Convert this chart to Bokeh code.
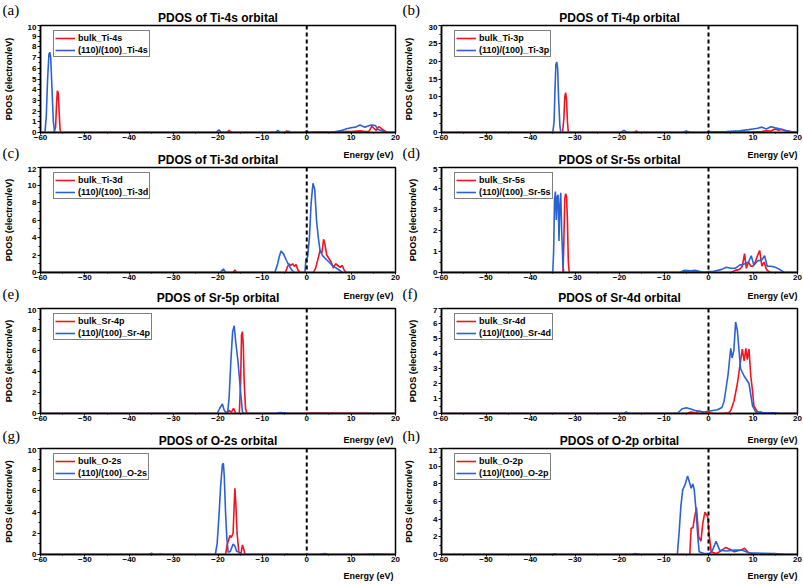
from bokeh.plotting import figure
from bokeh.layouts import column, row
from bokeh.models import Span, Legend, LegendItem, FixedTicker, Range1d
from bokeh.core.properties import value
from bokeh.embed import file_html
from bokeh.resources import INLINE

# ---------------- data ----------------
X_MIN, X_MAX = -60, 20
X_TICKS = [-60, -50, -40, -30, -20, -10, 0, 10, 20]
X_MINOR = [-55, -45, -35, -25, -15, -5, 5, 15]
FERMI = 0

LETTERS = ["(a)", "(b)", "(c)", "(d)", "(e)", "(f)", "(g)", "(h)"]
TITLES = ["PDOS of Ti-4s orbital", "PDOS of Ti-4p orbital", "PDOS of Ti-3d orbital",
          "PDOS of Sr-5s orbital", "PDOS of Sr-5p orbital", "PDOS of Sr-4d orbital",
          "PDOS of O-2s orbital", "PDOS of O-2p orbital"]
BULK_LABELS = ["bulk_Ti-4s", "bulk_Ti-3p", "bulk_Ti-3d", "bulk_Sr-5s",
               "bulk_Sr-4p", "bulk_Sr-4d", "bulk_O-2s", "bulk_O-2p"]
SURF_LABELS = ["(110)/(100)_Ti-4s", "(110)/(100)_Ti-3p", "(110)/(100)_Ti-3d", "(110)/(100)_Sr-5s",
               "(110)/(100)_Sr-4p", "(110)/(100)_Sr-4d", "(110)/(100)_O-2s", "(110)/(100)_O-2p"]
Y_MAX = [10, 30, 12, 5, 10, 7, 10, 12]
Y_STEP = [1, 5, 2, 1, 2, 1, 2, 2]
Y_LABEL = "PDOS (electron/eV)"
X_LABEL = "Energy (eV)"

# (a) Ti-4s
A_BULK_E = [-60, -57, -56.6, -56.4, -56.2, -56.0, -55.8, -55.6, -55.4, -18, -17.5, -17, -5, -4.5, -4,
            -0.3, 0, 0.3, 2, 5, 8, 10, 12, 13, 14, 14.7, 15.2, 15.7, 16.2, 16.6, 17, 17.6, 18.2, 20]
A_BULK = [0, 0, 0.5, 2.5, 3.9, 3.7, 2.0, 0.3, 0, 0, 0.2, 0, 0, 0.15, 0,
          0, 0.1, 0, 0.05, 0.05, 0.1, 0.1, 0.15, 0.1, 0.1, 0.6, 0.35, 0.2, 0.55, 0.45, 0.3, 0.15, 0, 0]
A_SURF_E = [-60, -59, -58.7, -58.4, -58.1, -57.9, -57.7, -57.4, -57.1, -56.8, -20.5, -19.8, -19.2,
            -7, -6.5, -6, -4.3, -4, -3.7, -0.5, 0, 0.5, 6, 8, 9, 10, 11, 12, 13, 13.5, 14.5, 15.5,
            16, 17, 18, 20]
A_SURF = [0, 0, 1.5, 5, 7.3, 7.5, 7.0, 4, 1, 0, 0, 0.25, 0,
          0, 0.2, 0, 0, 0.15, 0, 0, 0.15, 0, 0.05, 0.2, 0.35, 0.45, 0.5, 0.7, 0.5, 0.55, 0.7, 0.65,
          0.3, 0.15, 0, 0]

# (b) Ti-4p
B_BULK_E = [-60, -32.8, -32.5, -32.3, -32.1, -31.9, -31.7, -31.5, -16.6, -16.2, -15.8, -5.5, -5, -4.5,
            -0.3, 0, 0.3, 6, 10, 12, 13, 14, 15, 15.8, 16.5, 17.5, 18.5, 19.2, 20]
B_BULK = [0, 0, 4, 10, 11.2, 9, 3, 0, 0, 0.5, 0, 0, 0.2, 0,
          0, 0.2, 0, 0.1, 0.2, 0.3, 0.5, 0.4, 1.0, 0.6, 0.9, 0.5, 0.3, 0, 0]
B_SURF_E = [-60, -35, -34.7, -34.5, -34.3, -34.1, -33.9, -33.7, -33.4, -33.2, -19.8, -19, -18.2,
            -6, -5, -4, -0.5, 0, 1, 4, 7, 9, 10, 11, 12, 13, 14, 15, 15.5, 17, 18.5, 19.5, 20]
B_SURF = [0, 0, 3, 12, 19, 19.8, 18, 10, 2, 0, 0, 0.6, 0,
          0, 0.4, 0, 0, 0.3, 0.2, 0.3, 0.5, 0.8, 1.0, 1.2, 1.5, 1.0, 1.6, 1.3, 1.2, 0.6, 0.2, 0.1, 0]

# (c) Ti-3d
C_BULK_E = [-60, -16.6, -16.2, -15.8, -4.8, -4.4, -4.0, -3.6, -3.2, -2.8, -2.4, -2.0, -1.5,
            1.5, 2.0, 2.5, 3.0, 3.4, 3.8, 4.1, 4.5, 5.0, 5.5, 6.0, 6.5, 7.0, 7.5, 8.0, 8.5, 9.0, 20]
C_BULK = [0, 0, 0.3, 0, 0, 0.6, 1.0, 0.8, 1.0, 0.7, 0.9, 0.3, 0,
          0, 0.5, 1.5, 2.5, 2.2, 3.8, 3.2, 2.0, 1.6, 1.2, 0.5, 1.0, 0.8, 0.6, 0.8, 0.2, 0, 0]
C_SURF_E = [-60, -19.5, -18.8, -18.2, -7.2, -6.6, -6.2, -5.8, -5.2, -4.6, -4.0, -3.4, -2.8,
            -0.4, -0.2, 0.2, 0.6, 1.0, 1.4, 1.8, 2.2, 2.6, 3.0, 3.6, 4.2, 5.0, 6.0, 7.0, 8.0, 20]
C_SURF = [0, 0, 0.4, 0, 0, 0.9, 1.8, 2.45, 2.1, 1.4, 0.8, 0.3, 0,
          0, 1.5, 1.8, 4.0, 8.0, 10.2, 9.5, 6.0, 4.0, 2.5, 1.9, 1.6, 1.2, 0.7, 0.4, 0, 0]

# (d) Sr-5s
D_BULK_E = [-60, -32.7, -32.5, -32.3, -32.1, -31.9, -31.7, -31.5, -31.3, -6, -5, -4, -3, -2,
            5, 6, 7, 7.6, 8.1, 8.5, 9.0, 9.5, 10.0, 10.5, 11.0, 11.5, 12.0, 12.5, 13.0, 13.5, 14, 20]
D_BULK = [0, 0, 1.5, 3.5, 3.75, 3.6, 2.5, 0.5, 0, 0, 0.08, 0, 0.08, 0,
          0, 0.1, 0.15, 0.3, 0.9, 0.2, 0.5, 0.3, 0.3, 0.5, 0.8, 1.05, 0.3, 0.5, 0.15, 0.05, 0, 0]
D_SURF_E = [-60, -35, -34.8, -34.6, -34.4, -34.2, -34.0, -33.8, -33.6, -33.4, -33.2, -33.0, -32.7,
            -32.5, -6.5, -5.5, -4, -3, -1, 0, 1, 3, 4, 5, 6, 7, 8, 9, 9.6, 10.2, 11, 12, 12.6, 13.2,
            14, 15, 16, 17, 20]
D_SURF = [0, 0, 1, 3.5, 3.85, 2.5, 3.6, 3.7, 1.5, 3.2, 3.8, 2.0, 0.3,
          0, 0, 0.1, 0.08, 0.1, 0, 0.05, 0.05, 0.15, 0.25, 0.2, 0.2, 0.35, 0.4, 0.5, 0.8, 0.35,
          0.55, 0.6, 0.8, 0.3, 0.3, 0.25, 0.15, 0, 0]

# (e) Sr-5p
E_BULK_E = [-60, -18, -17.5, -17, -16.5, -16, -15.2, -14.9, -14.7, -14.5, -14.3, -14.1, -13.8, -13.5,
            -5.5, -5, -4.5, -1, 0, 20]
E_BULK = [0, 0, 0.3, 0.1, 0.5, 0, 0, 3, 7.5, 7.8, 6.5, 3, 0.5, 0,
          0, 0.08, 0, 0, 0.05, 0]
E_SURF_E = [-60, -20.2, -19.6, -19.0, -18.6, -18.2, -17.8, -17.5, -17.1, -16.7, -16.35, -16.0, -15.5,
            -14.9, -14.5, -14.2, -7, -6, -5, -4, 20]
E_SURF = [0, 0, 0.5, 0.9, 0.3, 0.1, 0.2, 1.5, 5.0, 7.8, 8.35, 6.8, 5.0,
          2.0, 0.2, 0, 0, 0.1, 0.05, 0, 0]

# (f) Sr-4d
F_BULK_E = [-60, -5, -4, -3, -2, -1, 0, 1, 3, 4.5, 5.0, 5.7, 6.5, 7.2, 7.6, 8.0, 8.4, 8.7, 9.1, 9.5,
            9.9, 10.2, 11, 11.8, 12.5, 20]
F_BULK = [0, 0, 0.1, 0.05, 0.15, 0.05, 0.1, 0, 0, 0.05, 0.2, 0.8, 2.0, 3.5, 4.3, 3.5, 4.35, 3.6, 4.3,
          2.5, 1.5, 0.5, 0.1, 0.1, 0, 0]
F_SURF_E = [-60, -19, -18.5, -18, -7, -6, -5, -4, -3, -2, -1, 0, 1, 2, 3, 3.5, 4.0, 4.4, 4.7, 5.0,
            5.3, 5.7, 6.1, 6.5, 7.2, 8.0, 9.1, 9.9, 10.6, 12, 15, 16, 20]
F_SURF = [0, 0, 0.1, 0, 0, 0.3, 0.38, 0.3, 0.2, 0.15, 0.1, 0.15, 0.2, 0.25, 0.4, 0.8, 1.8, 2.6, 3.5,
          4.35, 3.7, 4.2, 6.1, 5.5, 3.0, 2.5, 2.0, 0.5, 0.1, 0.05, 0.05, 0, 0]

# (g) O-2s
G_BULK_E = [-60, -33.5, -33, -32.5, -18.3, -17.9, -17.3, -17.0, -16.6, -16.2, -16.0, -15.7, -15.3,
            -14.8, -14.5, -14.2, -13.9, 3, 4, 5, 13, 15, 20]
G_BULK = [0, 0, 0.05, 0, 0, 1.0, 1.8, 1.6, 2.0, 6.25, 5.0, 2.0, 0.2,
          0.1, 0.9, 0.5, 0, 0, 0.05, 0, 0, 0.05, 0]
G_SURF_E = [-60, -35.5, -35, -34.5, -20.6, -20.2, -19.8, -19.4, -19.0, -18.8, -18.6, -18.3, -18.0,
            -17.7, -17.2, -16.6, -16.2, -15.8, -15.2, -14.8, -5, -4.5, -4, 3, 4, 5, 20]
G_SURF = [0, 0, 0.12, 0, 0, 1, 3.5, 6.5, 8.5, 8.6, 7.5, 4, 1.5,
          0.2, 0.3, 1.0, 0.8, 0.3, 0.2, 0, 0, 0.05, 0, 0, 0.1, 0, 0]

# (h) O-2p
H_BULK_E = [-60, -16.5, -16, -15.5, -4.2, -3.9, -3.5, -3.2, -2.7, -2.2, -1.7, -1.3, -0.8, -0.2, 0.2,
            0.6, 1.7, 2.8, 3.9, 5.1, 5.8, 7.3, 8.1, 8.8, 9.6, 10.2, 20]
H_BULK = [0, 0, 0.08, 0, 0, 3.0, 3.0, 4.0, 5.3, 2.0, 1.5, 3.5, 4.8, 4.3, 2.0,
          0.3, 0.1, 0.4, 0.8, 0.5, 0.3, 0.5, 0.7, 0.3, 0.1, 0, 0]
H_SURF_E = [-60, -35, -34.5, -34, -17, -16.5, -16, -7.0, -6.6, -6.2, -5.8, -5.2, -4.7, -4.3, -3.9,
            -3.5, -3.2, -2.8, -2.4, -2.1, -1, 0, 0.5, 1.0, 1.7, 2.5, 4, 6, 7.5, 9, 12, 15, 17, 20]
H_SURF = [0, 0, 0.08, 0, 0, 0.1, 0, 0, 2.5, 5.5, 7.3, 8.0, 8.9, 8.2, 7.5,
          8.0, 7.3, 5.0, 2.0, 0.3, 0.1, 0.1, 0.2, 0.6, 1.5, 0.5, 0.4, 0.5, 0.5, 0.2, 0.15, 0.1, 0, 0]

BULK_E = [A_BULK_E, B_BULK_E, C_BULK_E, D_BULK_E, E_BULK_E, F_BULK_E, G_BULK_E, H_BULK_E]
BULK = [A_BULK, B_BULK, C_BULK, D_BULK, E_BULK, F_BULK, G_BULK, H_BULK]
SURF_E = [A_SURF_E, B_SURF_E, C_SURF_E, D_SURF_E, E_SURF_E, F_SURF_E, G_SURF_E, H_SURF_E]
SURF = [A_SURF, B_SURF, C_SURF, D_SURF, E_SURF, F_SURF, G_SURF, H_SURF]

# ---------------- styling / layout ----------------
RED = "#f01420"
BLUE = "#2a62d6"
SANS = "Liberation Sans"
SERIF = "Liberation Serif"
PAGE_W = 803

# per column: border_left, frame_width, border_right, y-label standoff
COLS = [(40, 355, 5, 11), (41, 356, 6, 12)]
# per plot row: border_top, frame_height, border_bottom
ROWS = [(1, 107, 12), (1, 105, 13), (1, 105, 12), (1, 106, 12)]
# text strips above each plot row (and one below the last): heights
STRIP_H = [24, 22, 22, 22, 16]

# text positions (page px): letter left per column, title centre per column, energy-label right per column
LETTER_X = [2, 402]
TITLE_X = [217.5, 619]
ENERGY_X = [393, 797]
LETTER_CY = [9, 152, 293, 435]        # vertical centre of the panel letters, per row
TITLE_CY = [17, 159, 297, 440.5]      # vertical centre of the panel titles, per row
ENERGY_CY = [154, 295.5, 439, 575]    # vertical centre of each row's "Energy (eV)"

STRIP_TOP = []
_y = 0
for k in range(len(STRIP_H)):
    STRIP_TOP.append(_y)
    _y += STRIP_H[k]
    if k < len(ROWS):
        _y += sum(ROWS[k])


def make_strip(k):
    h = STRIP_H[k]
    top = STRIP_TOP[k]
    s = figure(width=PAGE_W, height=h, x_range=Range1d(0, PAGE_W), y_range=Range1d(h, 0),
               output_backend="svg", toolbar_location=None, tools="",
               x_axis_type=None, y_axis_type=None,
               min_border_left=0, min_border_right=0, min_border_top=0, min_border_bottom=0)
    s.outline_line_color = None
    s.background_fill_color = "white"
    s.border_fill_color = "white"
    if k > 0:   # x-axis labels of the row above
        s.text(x=ENERGY_X, y=[ENERGY_CY[k - 1] - top] * 2, text=[X_LABEL, X_LABEL],
               text_font=value(SANS), text_font_size=value("9px"), text_font_style="bold",
               text_align="right", text_baseline="middle", text_color="black")
    if k < len(ROWS):
        s.text(x=LETTER_X, y=[LETTER_CY[k] - top] * 2, text=LETTERS[2 * k:2 * k + 2],
               text_font=value(SERIF), text_font_size=value("15px"),
               text_align="left", text_baseline="middle", text_color="black")
        s.text(x=TITLE_X, y=[TITLE_CY[k] - top] * 2, text=TITLES[2 * k:2 * k + 2],
               text_font=value(SANS), text_font_size=value("12px"), text_font_style="bold",
               text_align="center", text_baseline="middle", text_color="black")
    return s


def make_panel(i):
    r, col = divmod(i, 2)
    bt, fh, bb = ROWS[r]
    bl, fw, br, ylab_so = COLS[col]
    ymax, ystep = Y_MAX[i], Y_STEP[i]

    p = figure(frame_width=fw, frame_height=fh,
               x_range=Range1d(X_MIN, X_MAX), y_range=Range1d(0, ymax),
               output_backend="svg", toolbar_location=None, tools="",
               min_border_left=bl, min_border_right=br,
               min_border_top=bt, min_border_bottom=bb)
    p.background_fill_color = "white"
    p.border_fill_color = "white"
    p.outline_line_color = "black"
    p.outline_line_width = 1.5
    p.outline_line_alpha = 1.0
    p.xgrid.visible = False
    p.ygrid.visible = False

    yt = [k * ystep for k in range(int(round(ymax / ystep)) + 1)]
    ym = [v + ystep / 2 for v in yt[:-1]]
    p.xaxis.ticker = FixedTicker(ticks=X_TICKS, minor_ticks=X_MINOR)
    p.yaxis.ticker = FixedTicker(ticks=yt, minor_ticks=ym)

    for ax in (p.xaxis[0], p.yaxis[0]):
        ax.axis_line_color = "black"
        ax.axis_line_width = 1.5
        ax.major_tick_line_color = "black"
        ax.minor_tick_line_color = "black"
        ax.major_tick_in = 0
        ax.major_tick_out = 3
        ax.minor_tick_in = 0
        ax.minor_tick_out = 2
        ax.major_label_text_font = SANS
        ax.major_label_text_font_style = "bold"
        ax.major_label_text_font_size = "8px"
        ax.major_label_text_color = "black"
    p.xaxis[0].major_tick_out = 2
    p.xaxis[0].minor_tick_out = 1
    p.xaxis[0].major_label_standoff = 0
    p.yaxis[0].major_label_standoff = 1

    ya = p.yaxis[0]
    ya.axis_label = Y_LABEL
    ya.axis_label_text_font = SANS
    ya.axis_label_text_font_style = "bold"
    ya.axis_label_text_font_size = "9px"
    ya.axis_label_text_color = "black"
    ya.axis_label_standoff = ylab_so

    r_bulk = p.line(BULK_E[i], BULK[i], line_color=RED, line_width=1.6)
    r_surf = p.line(SURF_E[i], SURF[i], line_color=BLUE, line_width=1.6)

    p.add_layout(Span(location=FERMI, dimension="height", line_color="black",
                      line_width=2, line_dash="4 3"))

    leg = Legend(items=[LegendItem(label=BULK_LABELS[i], renderers=[r_bulk]),
                        LegendItem(label=SURF_LABELS[i], renderers=[r_surf])],
                 location=(13, fh - 7 - 25))
    leg.border_line_color = "black"
    leg.border_line_width = 1
    leg.background_fill_color = "white"
    leg.background_fill_alpha = 1.0
    leg.label_text_font = SANS
    leg.label_text_font_style = "bold"
    leg.label_text_font_size = "9px"
    leg.label_text_color = "black"
    leg.glyph_width = 20
    leg.glyph_height = 10
    leg.label_height = 11
    leg.label_standoff = 3
    leg.spacing = 1
    leg.padding = 1
    leg.margin = 0
    p.add_layout(leg)
    return p


panels = [make_panel(i) for i in range(8)]
strips = [make_strip(k) for k in range(len(STRIP_H))]
items = []
for k in range(len(ROWS)):
    items.append(strips[k])
    items.append(row(panels[2 * k], panels[2 * k + 1]))
items.append(strips[-1])
layout = column(*items)

open("out.html", "w").write(file_html(layout, INLINE))
